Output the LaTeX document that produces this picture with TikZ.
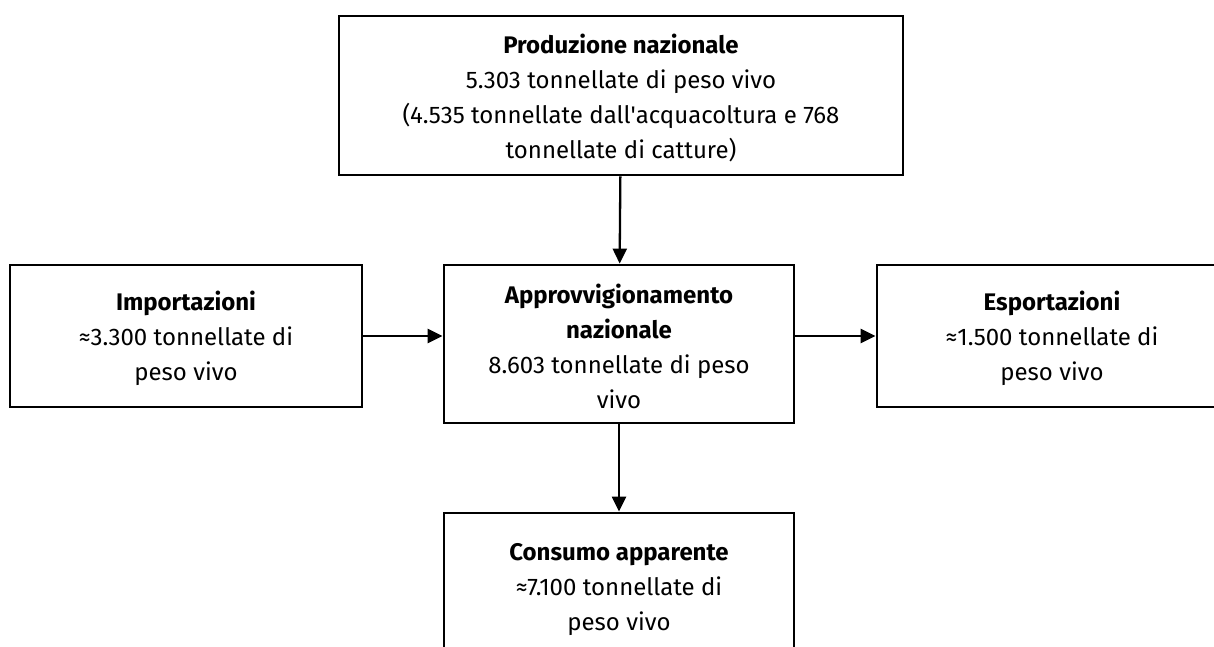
\documentclass[tikz,border=0pt]{standalone}
\usepackage{fontspec}
\setmainfont{Fira Sans}
\usetikzlibrary{arrows.meta}
\newcommand{\headstrut}{\rule{0pt}{25pt}}

\begin{document}
\begin{tikzpicture}[x=1pt,y=-1pt,
    box/.style={draw,line width=2.8pt,align=center,inner sep=0pt,
      font=\fontsize{24}{35}\selectfont},
    flow/.style={line width=2.3pt,-{Triangle[length=15pt,width=14pt]}}]
    \useasboundingbox (0,0) rectangle (1214,647);
    \clip (0,0) rectangle (1214,647);
    \node[box,minimum width=564pt,minimum height=159pt] (prod) at (621,95.5)
      {\headstrut\textbf{Produzione nazionale}\\5.303 tonnellate di peso vivo\\
       (4.535 tonnellate dall\textquotesingle acquacoltura e 768\\tonnellate di catture)};
    \node[box,minimum width=350pt,minimum height=158pt] (appr) at (619,344)
      {\headstrut\textbf{Approvvigionamento}\\\textbf{nazionale}\\8.603 tonnellate di peso\\vivo};
    \node[box,minimum width=352pt,minimum height=142pt] (imp) at (186,336)
      {\headstrut\textbf{Importazioni}\\≈3.300 tonnellate di\\peso vivo};
    \node[box,minimum width=350pt,minimum height=142pt] (esp) at (1052,336)
      {\headstrut\textbf{Esportazioni}\\≈1.500 tonnellate di\\peso vivo};
    \node[box,minimum width=350pt,minimum height=146pt] (cons) at (619,586)
      {\headstrut\textbf{Consumo apparente}\\≈7.100 tonnellate di\\peso vivo};
    %\draw (prod.south) -- (appr.north);
    \draw[flow] (prod) -- (appr);
    \draw[flow] (imp.east) -- (imp.east -| appr.west);
    \draw[flow] (esp.west -| appr.east) -- (esp.west);
    \draw[flow] (appr) -- (cons);
\end{tikzpicture}
\end{document}
